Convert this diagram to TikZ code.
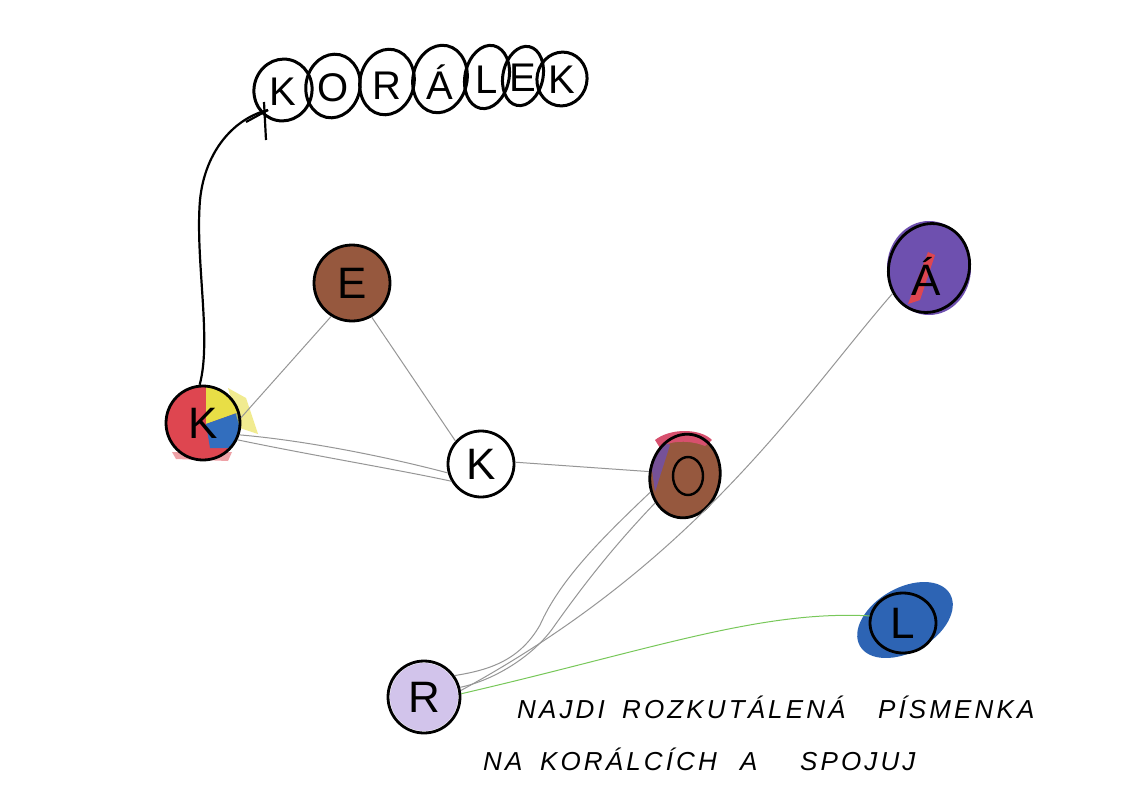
\documentclass[tikz,border=0pt]{standalone}
\usepackage{fontspec}
\setmainfont{Liberation Sans}
\usetikzlibrary{shapes.geometric}
\definecolor{kred}{RGB}{222,70,80}
\definecolor{kyellow}{RGB}{232,222,70}
\definecolor{kblue}{RGB}{50,110,190}
\definecolor{kbrown}{RGB}{150,88,62}
\definecolor{kpurple}{RGB}{110,80,175}
\definecolor{lpurple}{RGB}{210,196,235}
\definecolor{lblue}{RGB}{45,100,180}
\definecolor{kpink}{RGB}{215,80,110}
\definecolor{kgreen}{RGB}{120,200,90}
\definecolor{edgegray}{RGB}{150,150,150}
\tikzset{
  bead/.style={draw=black, line width=2.8pt, ellipse, inner sep=0pt,
    font=\fontsize{44}{44}\selectfont},
  tbead/.style={draw=black, line width=3pt, ellipse, inner sep=0pt},
  tletter/.style={font=\fontsize{40}{40}\selectfont, inner sep=0pt},
  edge/.style={draw=edgegray, line width=1pt},
  note/.style={anchor=base west, inner sep=0pt,
    font=\fontsize{26}{26}\selectfont\itshape\addfontfeature{LetterSpace=12}}
}
\begin{document}
\begin{tikzpicture}[x=1pt,y=-1pt]
\useasboundingbox[fill=white] (0,0) rectangle (1122,793);

% ---- crayon fills ----
\begin{scope}
\clip (203,423) circle[radius=37];
\fill[kred] (150,370) rectangle (260,480);
\fill[kyellow] (206,380) -- (206,424) -- (262,404) -- (262,380) -- cycle;
\fill[kblue] (206,424) -- (262,404) -- (262,448) -- (210,448) -- cycle;
\end{scope}
\fill[kred,opacity=0.5] (172,452) -- (232,452) -- (228,461) -- (176,459) -- cycle;
\fill[kyellow,opacity=0.6] (228,388) -- (246,398) -- (258,434) -- (240,428) -- cycle;

\fill[kbrown] (352,283) ellipse[x radius=37, y radius=38];
\fill[kbrown] (685,476) ellipse[x radius=35, y radius=42];
\fill[kpink] (655,440) .. controls (670,428) and (700,428) .. (712,440)
   -- (705,446) .. controls (690,440) and (670,440) .. (660,448) -- cycle;
\fill[kpurple,opacity=0.8] (652,470) .. controls (655,450) and (665,440) .. (670,445)
   -- (662,470) -- (655,492) -- cycle;
\fill[kpurple] (929,268) ellipse[x radius=42, y radius=47];
\fill[kred] (928,252) -- (935,255) -- (920,300) -- (908,304) -- cycle;
\fill[lblue, rotate around={30:(905,620)}] (905,620) ellipse[x radius=52, y radius=32];
\fill[lpurple] (424,697) circle[radius=34];

% ---- nodes ----
\node[bead, circle, minimum size=74pt] (K) at (203,423) {K};
\node[bead, circle, minimum size=76pt] (E) at (352,283) {E};
\node[bead, circle, minimum size=66pt] (Kw) at (481,464) {K};
\node[bead, minimum width=70pt, minimum height=84pt, rotate=-10] (O) at (685,476) {};
\draw[line width=2.4pt] (688,476) ellipse[x radius=15, y radius=19];
\node[bead, minimum width=80pt, minimum height=90pt, rotate=-20] (A) at (929,268) {};
\node[font=\fontsize{44}{44}\selectfont] at (926,276) {Á};
\node[bead, minimum width=66pt, minimum height=60pt] (L) at (903,623) {L};
\node[bead, circle, minimum size=72pt] (R) at (424,697) {R};

% ---- title beads ----
\node[tbead, minimum width=58pt, minimum height=62pt, rotate=-12] (t1) at (283,90) {};
\node[tletter] at (283,92) {K};
\node[tbead, minimum width=54pt, minimum height=64pt, rotate=-12] (t2) at (333,86) {};
\node[tletter] at (333,88) {O};
\node[tbead, minimum width=54pt, minimum height=66pt, rotate=-12] (t3) at (387,82) {};
\node[tletter] at (387,86) {R};
\node[tbead, minimum width=54pt, minimum height=68pt, rotate=-12] (t4) at (440,79) {};
\node[tletter] at (440,82) {Á};
\node[tbead, minimum width=44pt, minimum height=64pt, rotate=-12] (t5) at (487,77) {};
\node[tletter] at (487,80) {L};
\node[tbead, minimum width=40pt, minimum height=60pt, rotate=-12] (t6) at (523,76) {};
\node[tletter] at (523,78) {E};
\node[tbead, minimum width=50pt, minimum height=54pt, rotate=-12] (t7) at (562,79) {};
\node[tletter] at (562,80) {K};

% ---- black curve from K to title ----
\coordinate (tip) at (268,110);
\draw[line width=2.2pt] (K.95) .. controls (212,340) and (195,260) .. (200,200)
  .. controls (205,150) and (235,118) .. (tip);
\draw[line width=2.2pt] (246,122) -- (tip);
\draw[line width=2.2pt] (264,102) -- (266,140);

% ---- connectors ----
\draw[edge] (K.8) -- (E.238);
\draw[edge] (E.300) -- (Kw.138);
\draw[edge] (K.-18) .. controls (300,440) and (380,455) .. (Kw.195);
\draw[edge] (K.-26) .. controls (310,455) and (400,470) .. (Kw.210);
\draw[edge] (Kw.3) -- (O.183);
\draw[edge] (O.215) .. controls (600,540) and (560,580) .. (540,625) .. controls (520,660) and (490,670) .. (R.35);
\draw[edge] (O.232) .. controls (610,550) and (580,590) .. (555,625) .. controls (535,655) and (495,680) .. (R.15);
\draw[edge] (A.235) .. controls (800,400) and (700,560) .. (R.10);
\draw[draw=kgreen, line width=1pt] (L.168) .. controls (760,610) and (650,650) .. (R.5);

% ---- note ----
\node[note] (n1) at (517,718) {NAJDI};
\node[note] (n2) at (622,718) {ROZKUTÁLENÁ};
\node[note] (n3) at (878,718) {PÍSMENKA};
\node[note] (n4) at (483,770) {NA};
\node[note] (n5) at (540,770) {KORÁLCÍCH};
\node[note] (n6) at (740,770) {A};
\node[note] (n7) at (800,770) {SPOJUJ};
\end{tikzpicture}
\end{document}
